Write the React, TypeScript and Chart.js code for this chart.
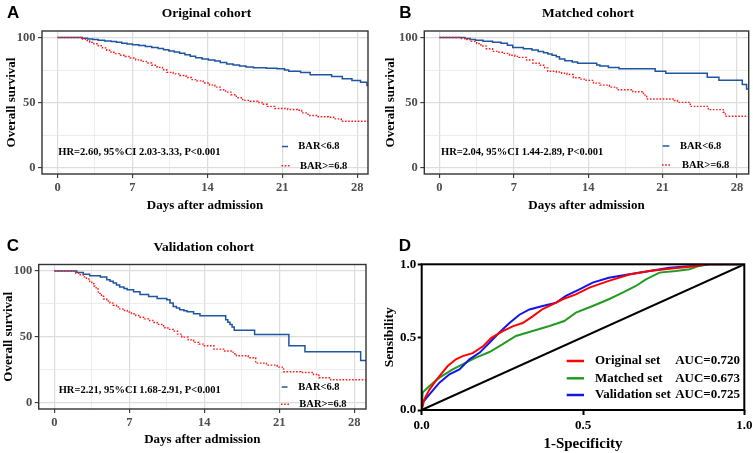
import React, { useEffect, useRef } from 'react';
import { Chart, registerables } from 'chart.js';

Chart.register(...registerables);

const SERIF = "'Liberation Serif', 'Times New Roman', serif";
const SANS = "'Liberation Sans', Arial, sans-serif";

// ---------- Kaplan-Meier data ----------
const kmMajorDays = [0, 7, 14, 21, 28];
const kmMinorDays = [3.5, 10.5, 17.5, 24.5];
const kmMajorSurv = [0, 50, 100];
const kmMinorSurv = [25, 75];
const kmGroupLabels = ['BAR<6.8', 'BAR>=6.8'];

// A: Original cohort
const origLowTime = [0, 2.3, 2.8, 3.3, 3.8, 4.4, 5.0, 5.5, 6.0, 6.5, 7.0, 7.6, 8.2, 8.8, 9.4, 9.9, 10.4, 10.9, 11.4, 11.9, 12.4, 12.9, 13.5, 14.1, 14.7, 15.2, 15.8, 16.4, 17.0, 17.6, 18.3, 19.5, 20.5, 21.2, 21.6, 22.7, 23.6, 25.6, 26.6, 27.5, 28.3, 28.9, 29.5];
const origLowSurv = [100, 99.4, 98.9, 98.4, 97.9, 97.4, 96.9, 96.3, 95.5, 95.0, 94.5, 93.8, 93.0, 92.3, 91.5, 90.6, 89.7, 88.8, 87.9, 86.8, 85.6, 84.5, 83.4, 82.6, 81.9, 80.8, 79.7, 78.9, 78.0, 77.4, 76.8, 76.4, 76.0, 75.0, 74.0, 73.0, 71.3, 70.0, 68.3, 67.0, 65.6, 63.0, 61.5];
const origHighTime = [0, 2.2, 2.6, 3.0, 3.4, 3.8, 4.2, 4.6, 5.0, 5.4, 5.8, 6.3, 6.8, 7.3, 7.8, 8.3, 8.8, 9.3, 9.8, 10.2, 10.8, 11.4, 12.0, 12.5, 13.0, 13.6, 14.2, 14.7, 15.2, 15.7, 16.2, 16.7, 17.3, 18.0, 18.7, 19.1, 19.6, 20.3, 21.5, 22.4, 22.8, 23.4, 24.2, 25.3, 25.8, 26.5, 29.5];
const origHighSurv = [100, 98.8, 97.6, 96.4, 95.2, 93.6, 92.0, 90.2, 88.6, 87.6, 86.4, 85.4, 84.2, 82.8, 81.6, 80.4, 78.6, 77.0, 75.2, 73.2, 72.0, 70.8, 69.2, 67.6, 66.6, 65.0, 63.4, 61.8, 59.8, 58.0, 56.0, 53.6, 51.6, 51.0, 50.0, 48.6, 47.0, 45.4, 44.6, 44.0, 42.0, 40.0, 39.0, 38.6, 37.4, 35.6, 35.4];
const origHR = 'HR=2.60, 95%CI 2.03-3.33, P<0.001';

// B: Matched cohort
const matchLowTime = [0, 2.4, 2.9, 3.4, 4.1, 5.0, 5.8, 6.4, 6.9, 7.9, 8.7, 9.3, 9.8, 10.2, 10.6, 11.0, 11.3, 11.8, 12.5, 13.0, 14.8, 15.1, 15.9, 16.9, 20.3, 21.3, 25.2, 26.3, 28.5, 28.9, 29.5];
const matchLowSurv = [100, 99.2, 98.5, 97.8, 97.2, 96.4, 95.6, 94.0, 92.4, 91.3, 90.3, 89.2, 88.3, 87.3, 86.3, 85.2, 83.4, 82.2, 81.2, 80.2, 78.8, 78.0, 77.0, 76.0, 74.0, 72.5, 69.5, 67.2, 63.8, 60.3, 60.3];
const matchHighTime = [0, 2.0, 2.5, 3.0, 3.5, 3.9, 4.4, 5.0, 5.6, 6.0, 6.6, 7.1, 7.5, 8.2, 8.8, 9.4, 9.9, 10.2, 11.0, 11.5, 12.0, 12.6, 13.2, 13.8, 14.5, 15.1, 16.0, 16.7, 18.2, 19.2, 19.5, 22.1, 22.4, 23.6, 25.3, 26.7, 26.9, 29.5];
const matchHighSurv = [100, 99.2, 98.5, 97.0, 95.4, 93.5, 91.3, 89.3, 88.6, 87.8, 86.3, 85.5, 84.7, 82.7, 80.2, 78.6, 76.6, 74.0, 73.5, 72.5, 71.5, 69.0, 68.0, 67.0, 64.9, 63.4, 61.8, 59.8, 58.3, 55.7, 52.7, 51.5, 50.1, 47.0, 44.5, 42.5, 39.4, 39.4];
const matchHR = 'HR=2.04, 95%CI 1.44-2.89, P<0.001';

// C: Validation cohort
const validLowTime = [0, 2.1, 2.7, 3.3, 4.3, 4.9, 5.2, 5.5, 5.8, 6.1, 6.5, 6.8, 7.4, 8.0, 8.8, 9.6, 10.5, 10.8, 11.1, 11.4, 11.7, 12.1, 12.4, 13.0, 13.6, 16.0, 16.2, 16.4, 16.6, 16.8, 18.7, 21.9, 23.4, 28.6, 29.5];
const validLowSurv = [100, 99.0, 97.5, 96.4, 95.4, 93.4, 92.2, 90.9, 89.4, 87.8, 86.8, 85.8, 84.3, 82.2, 80.7, 79.2, 78.2, 75.6, 73.1, 71.8, 70.6, 69.8, 69.0, 67.5, 66.0, 62.9, 61.0, 59.4, 57.4, 55.0, 51.8, 43.1, 38.6, 32.0, 32.0];
const validHighTime = [0, 2.0, 2.4, 2.7, 3.0, 3.3, 3.5, 3.7, 3.9, 4.1, 4.4, 4.6, 4.9, 5.2, 5.5, 5.8, 6.1, 6.4, 6.8, 7.2, 7.6, 8.0, 8.4, 8.8, 9.2, 9.6, 10.2, 10.6, 11.1, 11.5, 11.9, 12.5, 13.0, 13.5, 13.9, 14.9, 15.8, 16.7, 17.0, 18.1, 18.8, 19.8, 20.8, 21.4, 23.0, 24.2, 24.7, 25.8, 29.5];
const validHighSurv = [100, 98.5, 97.2, 95.6, 94.0, 92.0, 90.4, 88.6, 86.3, 83.0, 80.8, 78.7, 77.2, 75.6, 74.0, 72.6, 71.2, 70.0, 68.8, 67.5, 66.2, 64.9, 63.6, 62.4, 60.9, 59.4, 56.9, 55.6, 54.3, 52.0, 49.7, 47.6, 45.7, 44.4, 43.1, 40.6, 39.1, 37.1, 35.5, 34.0, 29.9, 28.4, 26.9, 23.4, 22.8, 21.3, 18.8, 17.3, 17.3];
const validHR = 'HR=2.21, 95%CI 1.68-2.91, P<0.001';

// ---------- ROC data ----------
const rocTicks = [0, 0.5, 1];
const rocSetLabels = ['Original set', 'Matched set', 'Validation set'];
const rocAucLabels = ['AUC=0.720', 'AUC=0.673', 'AUC=0.725'];
const rocOriginalFpr = [0, 0.008, 0.024, 0.04, 0.055, 0.08, 0.106, 0.127, 0.158, 0.19, 0.215, 0.25, 0.282, 0.313, 0.344, 0.375, 0.406, 0.437, 0.478, 0.52, 0.58, 0.644, 0.706, 0.768, 0.83, 0.89, 1.0];
const rocOriginalTpr = [0, 0.073, 0.14, 0.19, 0.233, 0.30, 0.348, 0.37, 0.39, 0.437, 0.494, 0.54, 0.574, 0.597, 0.643, 0.693, 0.725, 0.76, 0.794, 0.84, 0.886, 0.93, 0.954, 0.97, 0.984, 1.0, 1.0];
const rocMatchedFpr = [0, 0.003, 0.024, 0.055, 0.096, 0.137, 0.168, 0.21, 0.25, 0.292, 0.344, 0.396, 0.442, 0.478, 0.53, 0.58, 0.623, 0.664, 0.695, 0.737, 0.788, 0.83, 0.86, 0.89, 1.0];
const rocMatchedTpr = [0, 0.12, 0.165, 0.222, 0.279, 0.325, 0.359, 0.398, 0.45, 0.508, 0.542, 0.577, 0.611, 0.668, 0.714, 0.76, 0.805, 0.851, 0.897, 0.943, 0.954, 0.966, 0.989, 1.0, 1.0];
const rocValidationFpr = [0, 0.003, 0.024, 0.055, 0.086, 0.117, 0.148, 0.18, 0.21, 0.24, 0.272, 0.303, 0.334, 0.375, 0.417, 0.447, 0.489, 0.53, 0.58, 0.644, 0.706, 0.768, 0.84, 0.89, 1.0];
const rocValidationTpr = [0, 0.05, 0.108, 0.188, 0.245, 0.279, 0.348, 0.394, 0.462, 0.53, 0.597, 0.654, 0.69, 0.714, 0.737, 0.783, 0.828, 0.874, 0.908, 0.931, 0.954, 0.977, 0.989, 1.0, 1.0];
const rocRefFpr = [0, 1];
const rocRefTpr = [0, 1];

// ---------- styles ----------
const KM_BLUE = '#1F56A0';
const KM_RED = '#FF1A1A';
const ROC_COLORS = ['#FF0000', '#239B23', '#1414E6'];

const pts = (xs: number[], ys: number[]) => xs.map((x, i) => ({ x, y: ys[i] }));

type KMProps = {
  letter: string; title: string; hr: string;
  lowT: number[]; lowS: number[]; highT: number[]; highS: number[];
  box: { left: number; top: number; w: number; h: number };
  padding: { left: number; right: number; top: number; bottom: number };
  yWidth: number; xHeight: number; xMin: number; xMax: number;
  letterPos: [number, number]; titlePos: [number, number]; hrPos: [number, number];
  legend: { x1: number; x2: number; tx: number; y: number }[];
};

function makeKM(canvas: HTMLCanvasElement, p: KMProps) {
  const allX = [...kmMajorDays, ...kmMinorDays].sort((a, b) => a - b);
  const allY = [...kmMajorSurv, ...kmMinorSurv].sort((a, b) => a - b);
  const majX = (v: number) => kmMajorDays.includes(v);
  const majY = (v: number) => kmMajorSurv.includes(v);
  const tickFont = { family: SERIF, size: 12.5, weight: 'bold' as const };
  const titleFont = { family: SERIF, size: 13, weight: 'bold' as const };
  const decor = {
    id: 'kmDecor',
    afterDatasetsDraw(chart: any) {
      const { ctx, chartArea: a } = chart;
      ctx.save();
      ctx.strokeStyle = '#333333';
      ctx.lineWidth = 1.4;
      ctx.strokeRect(a.left, a.top, a.right - a.left, a.bottom - a.top);
      ctx.restore();
    },
    afterDraw(chart: any) {
      const { ctx } = chart;
      ctx.save();
      ctx.fillStyle = '#000';
      ctx.textBaseline = 'middle';
      ctx.textAlign = 'left';
      ctx.font = `bold 17px ${SANS}`;
      ctx.fillText(p.letter, p.letterPos[0], p.letterPos[1]);
      ctx.textAlign = 'center';
      ctx.font = `bold 13.5px ${SERIF}`;
      ctx.fillText(p.title, p.titlePos[0], p.titlePos[1]);
      ctx.textAlign = 'left';
      ctx.font = `bold 10.5px ${SERIF}`;
      ctx.fillText(p.hr, p.hrPos[0], p.hrPos[1]);
      kmGroupLabels.forEach((lab, i) => {
        const ds = chart.data.datasets.find((d: any) => d.label === lab);
        const r = p.legend[i];
        ctx.save();
        ctx.strokeStyle = ds.borderColor;
        ctx.lineWidth = ds.borderWidth;
        ctx.setLineDash(ds.borderDash || []);
        ctx.beginPath();
        ctx.moveTo(r.x1, r.y);
        ctx.lineTo(r.x2, r.y);
        ctx.stroke();
        ctx.restore();
        ctx.fillStyle = '#000';
        ctx.fillText(lab, r.tx, r.y);
      });
      ctx.restore();
    },
  };
  return new Chart(canvas, {
    type: 'line',
    data: {
      datasets: [
        {
          label: kmGroupLabels[1], data: pts(p.highT, p.highS), borderColor: KM_RED, borderWidth: 1.4,
          borderDash: [1.6, 1.6], stepped: 'before', pointRadius: 0, fill: false, tension: 0,
        },
        {
          label: kmGroupLabels[0], data: pts(p.lowT, p.lowS), borderColor: KM_BLUE, borderWidth: 1.5,
          stepped: 'before', pointRadius: 0, fill: false, tension: 0,
        },
      ],
    },
    options: {
      responsive: false,
      animation: false,
      events: [],
      layout: { padding: p.padding },
      plugins: { legend: { display: false }, title: { display: false }, tooltip: { enabled: false } },
      scales: {
        x: {
          type: 'linear', min: p.xMin, max: p.xMax,
          afterBuildTicks: (s: any) => { s.ticks = allX.map((v) => ({ value: v })); },
          afterFit: (s: any) => { s.height = p.xHeight; s.paddingLeft = 0; s.paddingRight = 0; },
          ticks: {
            autoSkip: false, maxRotation: 0, padding: 2.5, color: '#4D4D4D', font: tickFont,
            callback: (v: any) => (majX(v) ? String(v) : ''),
          },
          grid: {
            color: (c: any) => (c.tick && majX(c.tick.value) ? '#DDDDDD' : '#E9E9E9'),
            lineWidth: (c: any) => (c.tick && majX(c.tick.value) ? 1.2 : 0.8),
            tickColor: (c: any) => (c.tick && majX(c.tick.value) ? '#333333' : 'rgba(0,0,0,0)'),
            tickLength: 4, tickWidth: 1.1,
          },
          border: { display: false },
          title: { display: true, text: 'Days after admission', color: '#000', font: titleFont, padding: 0 },
        },
        y: {
          type: 'linear', min: -5, max: 105,
          afterBuildTicks: (s: any) => { s.ticks = allY.map((v) => ({ value: v })); },
          afterFit: (s: any) => { s.width = p.yWidth; s.paddingTop = 0; s.paddingBottom = 0; },
          ticks: {
            autoSkip: false, padding: 2.5, color: '#4D4D4D', font: tickFont,
            callback: (v: any) => (majY(v) ? String(v) : ''),
          },
          grid: {
            color: (c: any) => (c.tick && majY(c.tick.value) ? '#DDDDDD' : '#E9E9E9'),
            lineWidth: (c: any) => (c.tick && majY(c.tick.value) ? 1.2 : 0.8),
            tickColor: (c: any) => (c.tick && majY(c.tick.value) ? '#333333' : 'rgba(0,0,0,0)'),
            tickLength: 4, tickWidth: 1.1,
          },
          border: { display: false },
          title: { display: true, text: 'Overall survival', color: '#000', font: titleFont, padding: 0 },
        },
      },
    } as any,
    plugins: [decor],
  });
}

function KMPanel(props: KMProps) {
  const ref = useRef<HTMLCanvasElement>(null);
  useEffect(() => {
    const c = makeKM(ref.current!, props);
    return () => c.destroy();
  }, []);
  const b = props.box;
  return (
    <canvas
      ref={ref}
      width={b.w}
      height={b.h}
      style={{ position: 'absolute', left: b.left, top: b.top, width: b.w, height: b.h }}
    />
  );
}

function ROCPanel() {
  const ref = useRef<HTMLCanvasElement>(null);
  const box = { left: 376, top: 226, w: 377, h: 227 };
  useEffect(() => {
    const tickFont = { family: SERIF, size: 13, weight: 'bold' as const };
    const decor = {
      id: 'rocDecor',
      afterDatasetsDraw(chart: any) {
        const { ctx, chartArea: a } = chart;
        ctx.save();
        ctx.strokeStyle = '#000';
        ctx.lineWidth = 2;
        ctx.strokeRect(a.left, a.top, a.right - a.left, a.bottom - a.top);
        ctx.restore();
      },
      afterDraw(chart: any) {
        const { ctx } = chart;
        ctx.save();
        ctx.fillStyle = '#000';
        ctx.textBaseline = 'middle';
        ctx.textAlign = 'left';
        ctx.font = `bold 17px ${SANS}`;
        ctx.fillText('D', 22.7, 20.8);
        const rows = [135, 152.3, 169];
        ctx.font = `bold 13px ${SERIF}`;
        rocSetLabels.forEach((lab, i) => {
          ctx.save();
          ctx.strokeStyle = ROC_COLORS[i];
          ctx.lineWidth = 2.5;
          ctx.beginPath();
          ctx.moveTo(190.7, rows[i]);
          ctx.lineTo(208, rows[i]);
          ctx.stroke();
          ctx.restore();
          ctx.textAlign = 'left';
          ctx.fillText(lab, 219, rows[i]);
          ctx.textAlign = 'right';
          ctx.fillText(rocAucLabels[i], 364, rows[i]);
        });
        ctx.restore();
      },
    };
    const line = (label: string, data: any, color: string, w: number) => ({
      label, data, borderColor: color, borderWidth: w, pointRadius: 0, fill: false, tension: 0,
    });
    const chart = new Chart(ref.current!, {
      type: 'line',
      data: {
        datasets: [
          line(rocSetLabels[0], pts(rocOriginalFpr, rocOriginalTpr), ROC_COLORS[0], 2),
          line(rocSetLabels[2], pts(rocValidationFpr, rocValidationTpr), ROC_COLORS[2], 2),
          line(rocSetLabels[1], pts(rocMatchedFpr, rocMatchedTpr), ROC_COLORS[1], 2),
          line('Reference', pts(rocRefFpr, rocRefTpr), '#000', 2),
        ],
      },
      options: {
        responsive: false,
        animation: false,
        events: [],
        layout: { padding: { left: 5.2, right: 8.7, top: 38.3, bottom: 0 } },
        plugins: { legend: { display: false }, title: { display: false }, tooltip: { enabled: false } },
        scales: {
          x: {
            type: 'linear', min: 0, max: 1,
            afterBuildTicks: (s: any) => { s.ticks = rocTicks.map((v) => ({ value: v })); },
            afterFit: (s: any) => { s.height = 43; s.paddingLeft = 0; s.paddingRight = 0; },
            ticks: { autoSkip: false, maxRotation: 0, padding: 3, color: '#000', font: tickFont, callback: (v: any) => Number(v).toFixed(1) },
            grid: { drawOnChartArea: false, tickColor: '#000', tickLength: 5, tickWidth: 2 },
            border: { display: false },
            title: { display: true, text: '1-Specificity', color: '#000', font: { family: SERIF, size: 15, weight: 'bold' }, padding: 0 },
          },
          y: {
            type: 'linear', min: 0, max: 1,
            afterBuildTicks: (s: any) => { s.ticks = rocTicks.map((v) => ({ value: v })); },
            afterFit: (s: any) => { s.width = 40.5; s.paddingTop = 0; s.paddingBottom = 0; },
            ticks: { autoSkip: false, padding: 1.5, color: '#000', font: tickFont, callback: (v: any) => Number(v).toFixed(1) },
            grid: { drawOnChartArea: false, tickColor: '#000', tickLength: 4, tickWidth: 2 },
            border: { display: false },
            title: { display: true, text: 'Sensibility', color: '#000', font: { family: SERIF, size: 13.5, weight: 'bold' }, padding: 0 },
          },
        },
      } as any,
      plugins: [decor],
    });
    return () => chart.destroy();
  }, []);
  return (
    <canvas
      ref={ref}
      width={box.w}
      height={box.h}
      style={{ position: 'absolute', left: box.left, top: box.top, width: box.w, height: box.h }}
    />
  );
}

export default function App() {
  return (
    <div style={{ position: 'absolute', left: 0, top: 0, width: 753, height: 453, background: '#fff', overflow: 'hidden' }}>
      <KMPanel
        letter="A" title="Original cohort" hr={origHR}
        lowT={origLowTime} lowS={origLowSurv} highT={origHighTime} highS={origHighSurv}
        box={{ left: 0, top: 0, w: 376, h: 226 }}
        padding={{ left: 3.9, right: 8, top: 31, bottom: 12.2 }}
        yWidth={38.1} xHeight={39.8} xMin={-1.45} xMax={29.0}
        letterPos={[7, 13.3]} titlePos={[206.5, 13.3]} hrPos={[58.3, 152.7]}
        legend={[{ x1: 282, x2: 288, tx: 298.3, y: 146.5 }, { x1: 281.5, x2: 290, tx: 300, y: 165.8 }]}
      />
      <KMPanel
        letter="B" title="Matched cohort" hr={matchHR}
        lowT={matchLowTime} lowS={matchLowSurv} highT={matchHighTime} highS={matchHighSurv}
        box={{ left: 376, top: 0, w: 377, h: 226 }}
        padding={{ left: 7.2, right: 4.3, top: 31, bottom: 12.2 }}
        yWidth={41.1} xHeight={39.8} xMin={-1.42} xMax={29.1}
        letterPos={[23.3, 13.3]} titlePos={[212, 13.3]} hrPos={[65, 152.3]}
        legend={[{ x1: 286.7, x2: 293.3, tx: 304, y: 146 }, { x1: 286, x2: 295, tx: 306, y: 165 }]}
      />
      <KMPanel
        letter="C" title="Validation cohort" hr={validHR}
        lowT={validLowTime} lowS={validLowSurv} highT={validHighTime} highS={validHighSurv}
        box={{ left: 0, top: 226, w: 376, h: 227 }}
        padding={{ left: 0.5, right: 10, top: 38.5, bottom: 5.2 }}
        yWidth={38.2} xHeight={38.8} xMin={-1.46} xMax={29.1}
        letterPos={[6.7, 20.3]} titlePos={[203.7, 21.7]} hrPos={[58.7, 164]}
        legend={[{ x1: 281.7, x2: 287.5, tx: 298.3, y: 161 }, { x1: 281, x2: 289, tx: 299.3, y: 178.3 }]}
      />
      <ROCPanel />
    </div>
  );
}
